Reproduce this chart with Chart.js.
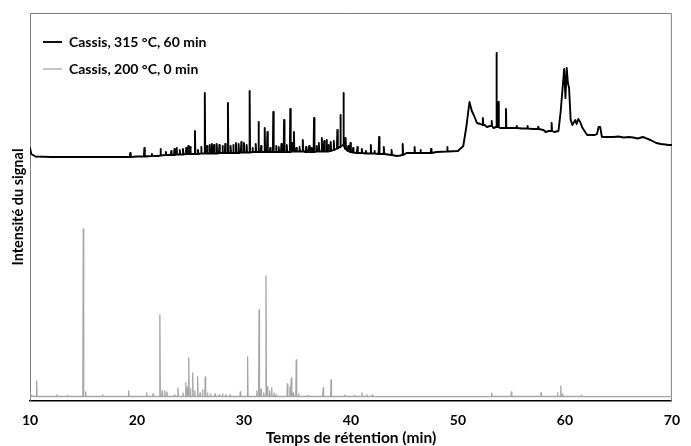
<!DOCTYPE html>
<html>
<head>
<meta charset="utf-8">
<script src="https://cdn.jsdelivr.net/npm/chart.js@4.4.1/dist/chart.umd.min.js"></script>
<style>
html,body{margin:0;padding:0;background:#fff;}
#wrap{width:691px;height:446px;}
</style>
</head>
<body>
<div id="wrap"><canvas id="myChart"></canvas></div>
<script>
var ticksX = [10, 20, 30, 40, 50, 60, 70];

// Cassis, 315 °C, 60 min : ligne de base + massifs larges
var noirFondTemps = [10.0, 10.12, 10.5, 12, 14, 16, 18, 20, 22, 23, 24, 25, 26, 27, 28, 29, 30, 31, 32, 33, 34, 35, 36, 37, 38, 38.6, 39.0, 39.3, 39.6, 40, 41, 42, 43, 43.9, 44.3, 44.6, 45.2, 46, 47, 48, 49, 50, 50.5, 50.8, 51.08, 51.3, 51.48, 51.78, 52.1, 52.5, 52.7, 53.0, 53.32, 53.94, 54.2, 55, 56, 57, 58, 58.2, 58.5, 59.0, 59.4, 59.61, 59.93, 60.05, 60.17, 60.28, 60.39, 60.54, 60.7, 60.97, 61.1, 61.25, 61.43, 61.6, 61.77, 62.08, 62.5, 62.81, 63.0, 63.15, 63.3, 63.46, 64, 64.54, 65, 65.5, 66, 66.38, 66.8, 67.3, 67.61, 68, 68.53, 69, 69.73, 70];
var noirFondSignal = [253, 247, 244.5, 244, 244, 244, 244, 244.5, 245, 246, 246.5, 247, 247.5, 247.5, 248, 248, 248.5, 249, 249, 249, 249, 249.5, 249, 249.5, 250, 252, 254, 256, 251, 249, 248, 247.5, 247, 246, 245, 245.5, 248, 248, 248, 249, 249.5, 250, 255, 275, 299, 290, 286, 278, 277, 276, 274, 275, 273, 273, 273, 273, 272.5, 272, 271, 269, 270, 269, 270, 290, 332, 303, 333, 318, 313, 281, 276, 281, 277, 282, 279, 274, 271, 266, 266, 266, 267, 274, 274, 264, 264, 264, 264.5, 263.5, 264, 263.5, 262.5, 264, 262.7, 261, 258, 257, 256, 256];

// pics fins (temps, sommet, base)
var noirPicsTemps = [19.37, 20.69, 21.4, 22.2, 22.7, 23.2, 23.5, 23.7, 24.0, 24.3, 24.6, 24.8, 25.0, 25.42, 25.7, 26.0, 26.34, 26.55, 26.8, 27.0, 27.2, 27.45, 27.7, 28.0, 28.25, 28.5, 28.75, 29.0, 29.25, 29.5, 29.75, 30.0, 30.25, 30.53, 30.8, 31.1, 31.36, 31.6, 31.94, 32.19, 32.45, 32.74, 33.0, 33.25, 33.5, 33.75, 34.0, 34.33, 34.5, 34.67, 34.9, 35.2, 35.5, 35.8, 36.1, 36.3, 36.55, 36.8, 37.0, 37.28, 37.5, 37.72, 37.9, 38.11, 38.4, 38.73, 39.03, 39.31, 39.5, 39.75, 39.95, 40.2, 40.6, 41.03, 41.4, 41.86, 42.2, 42.63, 43.09, 43.8, 44.84, 45.95, 46.5, 47.49, 49.0, 52.33, 53.16, 53.60, 53.78, 54.49, 55.5, 56.5, 57.5, 58.76];
var noirPicsSignal = [248, 253, 247, 252, 249, 250, 252, 253, 251, 252, 253, 255, 254, 270, 251, 254, 308, 255, 256, 257, 256, 257, 256, 255, 257, 298, 255, 256, 258, 257, 259, 258, 256, 310, 253, 257, 279, 255, 273, 269, 253, 289, 255, 254, 257, 281, 256, 292, 258, 269, 253, 254, 261, 254, 255, 253, 283, 255, 258, 263, 260, 261, 256, 259, 260, 271, 286, 308, 263, 255, 258, 253, 254, 252, 250, 256, 250, 264, 254, 251, 257, 254, 251, 252, 254, 283, 280, 348, 299, 292, 275, 275, 274, 278];
var noirPicsBase = [244, 244.5, 245, 245.5, 246, 246, 246, 246.5, 246.5, 246.5, 247, 247, 247, 247, 247, 247.5, 247.5, 247.5, 247.5, 247.5, 247.5, 247.5, 248, 248, 248, 248, 248, 248, 248, 248, 248.5, 248.5, 248.5, 248.5, 249, 249, 249, 249, 249, 249, 249, 249, 249, 249, 249, 249, 249, 249, 249.5, 249.5, 249.5, 249.5, 249.5, 249, 249, 249, 249, 249.5, 249.5, 249.5, 249.5, 249.5, 249.5, 250, 251, 252.5, 254.5, 256, 252, 250, 249, 248.5, 248, 248, 247.5, 247.5, 247.5, 247, 247, 246, 246, 248, 248, 248, 249.5, 276, 275, 274, 274, 273, 273, 272.5, 272, 270];

// Cassis, 200 °C, 0 min
var grisFondTemps = [10.0, 10.15, 10.5, 20, 30, 40, 50, 60, 70];
var grisFondSignal = [8, 5, 4.5, 4.5, 4.5, 4.5, 4.3, 4.5, 4.3];
var grisPicsTemps = [10.62, 12.5, 13.5, 14.98, 15.2, 16.8, 19.22, 20.9, 21.5, 22.14, 22.35, 22.6, 22.8, 23.5, 23.83, 24.3, 24.54, 24.7, 24.84, 25.0, 25.21, 25.4, 25.67, 25.9, 26.13, 26.38, 26.6, 26.9, 27.3, 27.7, 28.0, 28.3, 28.7, 29.66, 30.34, 31.2, 31.41, 31.6, 31.85, 32.06, 32.19, 32.4, 32.58, 32.8, 33.0, 34.06, 34.3, 34.43, 34.6, 34.89, 35.1, 36.0, 37.40, 38.14, 39.43, 40.3, 41.03, 41.5, 42.0, 53.16, 55.0, 57.77, 59.31, 59.62, 59.8, 61.55];
var grisPicsSignal = [20, 6, 5.5, 172, 9, 6, 10, 8, 7, 86, 10, 10, 9, 6, 13, 8, 18, 14, 43, 12, 28, 10, 24, 8, 11, 24, 8, 7, 7, 6, 7, 6, 6, 9, 44, 10, 91, 12, 8, 125, 14, 10, 13, 8, 6, 17, 14, 23, 8, 41, 7, 5.5, 13, 21, 6, 5.5, 8, 6, 6, 8, 9, 8, 8, 15, 7, 6];
var grisPicsBase = 4.5;

var demiLargeur = 0.04;

function construireTrace(fondT, fondS, picsT, picsS, picsBase) {
  var pts = [];
  for (var i = 0; i < fondT.length; i++) pts.push({x: fondT[i], y: fondS[i]});
  for (var j = 0; j < picsT.length; j++) {
    var b = Array.isArray(picsBase) ? picsBase[j] : picsBase;
    pts.push({x: picsT[j] - demiLargeur, y: b});
    pts.push({x: picsT[j], y: picsS[j]});
    pts.push({x: picsT[j] + demiLargeur, y: b});
  }
  pts.sort(function (a, c) { return a.x - c.x; });
  return pts;
}

var traceNoir = construireTrace(noirFondTemps, noirFondSignal, noirPicsTemps, noirPicsSignal, noirPicsBase);
var traceGris = construireTrace(grisFondTemps, grisFondSignal, grisPicsTemps, grisPicsSignal, grisPicsBase);

// cadre gris autour de la zone de tracé (gauche, haut, droite)
var cadre = {
  id: 'cadre',
  beforeDatasetsDraw: function (chart) {
    var a = chart.chartArea, c = chart.ctx;
    c.save();
    c.strokeStyle = '#7f7f7f';
    c.lineWidth = 1;
    c.beginPath();
    c.moveTo(a.left + 0.5, a.bottom);
    c.lineTo(a.left + 0.5, a.top + 0.5);
    c.lineTo(a.right - 0.5, a.top + 0.5);
    c.lineTo(a.right - 0.5, a.bottom);
    c.stroke();
    c.restore();
  }
};

var ctx = document.getElementById('myChart');
var myChart = new Chart(ctx, {
  type: 'line',
  data: {
    datasets: [{
      label: 'Cassis, 315 °C, 60 min',
      data: traceNoir,
      borderColor: '#000000',
      backgroundColor: '#000000',
      borderWidth: 1.9,
      borderJoinStyle: 'round',
      borderCapStyle: 'round',
      pointRadius: 0,
      tension: 0
    }, {
      label: 'Cassis, 200 °C, 0 min',
      data: traceGris,
      borderColor: '#a6a6a6',
      backgroundColor: '#a6a6a6',
      borderWidth: 1.3,
      borderJoinStyle: 'round',
      borderCapStyle: 'round',
      pointRadius: 0,
      tension: 0
    }]
  },
  options: {
    responsive: true,
    maintainAspectRatio: false,
    animation: false,
    layout: {padding: {left: 9.3, right: 10, top: 13, bottom: 0}},
    plugins: {
      legend: {
        position: 'chartArea',
        align: 'start',
        title: {display: true, text: '', padding: {top: 13, bottom: 0}, font: {size: 7.5}},
        labels: {
          usePointStyle: true,
          pointStyle: 'line',
          pointStyleWidth: 19,
          padding: 13,
          color: '#000',
          font: {family: 'Lato', weight: 'bold', size: 14}
        }
      },
      tooltip: {enabled: false}
    },
    scales: {
      x: {
        type: 'linear',
        min: 10,
        max: 70,
        afterBuildTicks: function (s) { s.ticks = ticksX.map(function (v) { return {value: v}; }); },
        grid: {display: false, drawTicks: false},
        border: {color: '#000', width: 1.5},
        ticks: {padding: 11, color: '#000', font: {family: 'Lato', weight: 'bold', size: 14}},
        title: {display: true, text: 'Temps de rétention (min)', color: '#000', padding: {top: -11.1, bottom: -1.3}, font: {family: 'Lato', weight: 'bold', size: 15.5}}
      },
      y: {
        min: 0,
        max: 388,
        ticks: {display: false},
        grid: {display: false, drawTicks: false},
        border: {display: false},
        title: {display: true, text: 'Intensité du signal', color: '#000', padding: {top: 0, bottom: 3.3}, font: {family: 'Lato', weight: 'bold', size: 14.5}}
      }
    }
  },
  plugins: [cadre]
});
</script>
</body>
</html>
